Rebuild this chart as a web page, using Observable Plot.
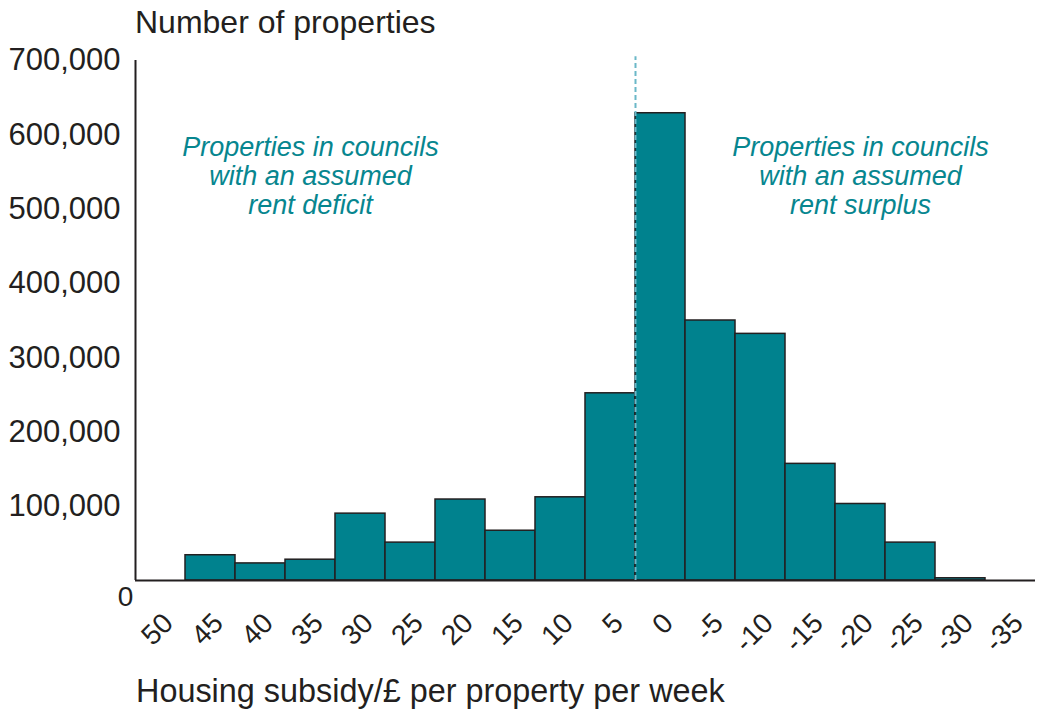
<!DOCTYPE html>
<html>
<head>
<meta charset="utf-8">
<script src="https://cdn.jsdelivr.net/npm/d3@7"></script>
<script src="https://cdn.jsdelivr.net/npm/@observablehq/plot@0.6"></script>
<style>
  html, body { margin: 0; padding: 0; background: #fff; }
  body { width: 1039px; height: 711px; position: relative; overflow: hidden;
         font-family: "Liberation Sans", Arial, sans-serif; color: #231f20; }
  #title { position: absolute; left: 135px; top: 6px; font-size: 32px; line-height: 1; white-space: nowrap; }
  #chart { position: absolute; left: 0; top: 40px; }
  #caption { position: absolute; left: 136px; top: 675px; font-size: 32.4px; line-height: 1; white-space: nowrap; }
</style>
</head>
<body>
<div id="title">Number of properties</div>
<div id="chart"></div>
<div id="caption">Housing subsidy/£ per property per week</div>
<script>
// Bin labels (housing subsidy, £ per property per week)
const subsidyBins = [50, 45, 40, 35, 30, 25, 20, 15, 10, 5, 0, -5, -10, -15, -20, -25, -30, -35];
// Number of properties in each bin
const propertyCounts = [0, 34000, 23000, 28000, 90000, 51000, 109000, 67000, 112000, 252000, 629000, 350000, 332000, 157000, 103000, 51000, 3000, 0];
// Y-axis tick values
const yTicks = [100000, 200000, 300000, 400000, 500000, 600000, 700000];
// Boundary between deficit and surplus councils
const dividerValue = 2.5;
const binWidth = 5;
// Annotations
const noteTexts = ["Properties in councils\nwith an assumed\nrent deficit", "Properties in councils\nwith an assumed\nrent surplus"];
const noteX = [35, -20];
const noteY = [545000, 545000];

const bars = subsidyBins.map((b, i) => ({bin: b, count: propertyCounts[i]})).filter(d => d.count > 0);
const notes = noteTexts.map((t, i) => ({text: t, x: noteX[i], y: noteY[i]}));
const xDomain = [subsidyBins[0] + binWidth / 2, subsidyBins[subsidyBins.length - 1] - binWidth / 2];

const chart = Plot.plot({
  width: 1039,
  height: 625,
  marginLeft: 135,
  marginRight: 4,
  marginTop: 20,
  marginBottom: 85,
  style: {fontFamily: "'Liberation Sans', Arial, sans-serif", color: "#231f20", background: "transparent"},
  x: {domain: xDomain, ticks: subsidyBins, tickFormat: d => String(d)},
  y: {domain: [0, 700000], ticks: yTicks, tickFormat: d3.format(",")},
  marks: [
    Plot.axisY({ticks: yTicks, tickFormat: d3.format(","), tickSize: 0, tickPadding: 15, fontSize: 31, label: null}),
    Plot.axisX({ticks: subsidyBins, tickFormat: d => String(d), tickSize: 0, tickPadding: 38, tickRotate: -45, fontSize: 28, dx: 8, label: null}),
    Plot.rectY(bars, {x1: d => d.bin + binWidth / 2, x2: d => d.bin - binWidth / 2, y: "count", fill: "#00828e", stroke: "#231f20", strokeWidth: 1.5}),
    Plot.ruleY([0], {stroke: "#231f20", strokeWidth: 2}),
    Plot.ruleX([xDomain[0]], {y1: 0, y2: 700000, stroke: "#231f20", strokeWidth: 2}),
    Plot.ruleX([dividerValue], {y1: 0, y2: 705000, stroke: "#6bb8c8", strokeWidth: 2, strokeDasharray: "5,3"}),
    Plot.text([0], {x: xDomain[0], y: d => d, text: d => String(d), fontSize: 28, dx: -10, dy: 17, textAnchor: "middle", fill: "#231f20"}),
    Plot.text(notes, {x: "x", y: "y", text: "text", fontSize: 27, fontStyle: "italic", fill: "#07868f", textAnchor: "middle", lineAnchor: "middle", lineHeight: 1.07})
  ]
});
document.getElementById("chart").appendChild(chart);
</script>
</body>
</html>
